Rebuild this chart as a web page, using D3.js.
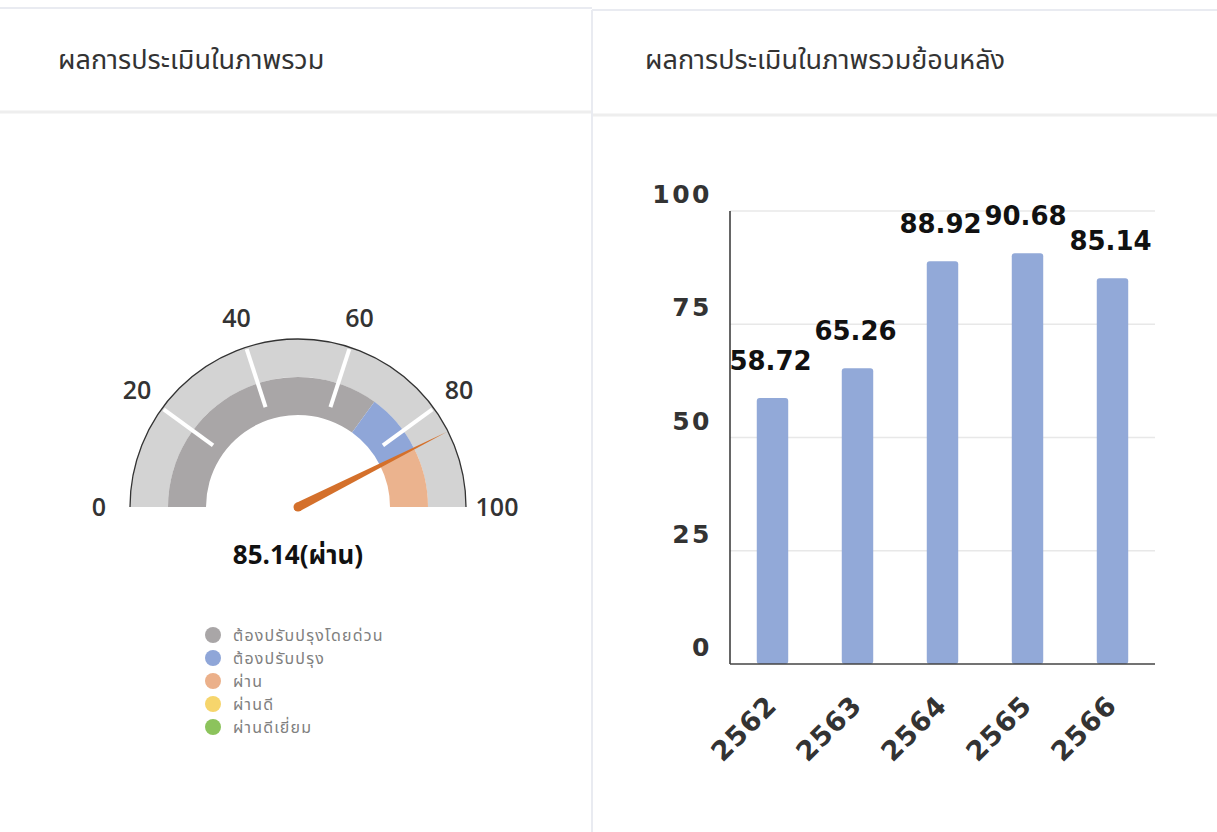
<!DOCTYPE html>
<html><head><meta charset="utf-8">
<script src="https://cdn.jsdelivr.net/npm/d3@7"></script>
<style>
html,body{margin:0;padding:0;background:#fff;}
svg{display:block;}
.thai{font-family:"Noto Sans Thai","Noto Sans Thai UI","Noto Sans","DejaVu Sans",sans-serif;}
</style></head>
<body>
<svg id="c" width="1217" height="832"></svg>
<script>
// ---------- data ----------
const gaugeTitle = "ผลการประเมินในภาพรวม";
const barTitle = "ผลการประเมินในภาพรวมย้อนหลัง";
const gaugeValue = 85.14;
const gaugeStatus = "ผ่าน";
const gaugeTicks = [0, 20, 40, 60, 80, 100];
const bandStarts = [0, 70, 85];
const bandEnds = [70, 85, 100];
const bandColors = ["#a9a6a7", "#8fa6d8", "#ebb38e"];
const legendLabels = ["ต้องปรับปรุงโดยด่วน", "ต้องปรับปรุง", "ผ่าน", "ผ่านดี", "ผ่านดีเยี่ยม"];
const legendColors = ["#a9a6a7", "#8fa6d8", "#ebb08a", "#f6d56c", "#8cc35c"];
const years = ["2562", "2563", "2564", "2565", "2566"];
const scores = [58.72, 65.26, 88.92, 90.68, 85.14];
const yTicks = [0, 25, 50, 75, 100];

(function(){
const svg = d3.select("#c");

// ---------- panels ----------
svg.append("line").attr("x1",0).attr("x2",592).attr("y1",8).attr("y2",8).attr("stroke","#e9ebf1").attr("stroke-width",2);
svg.append("line").attr("x1",592).attr("x2",1217).attr("y1",10).attr("y2",10).attr("stroke","#e9ebf1").attr("stroke-width",2);
svg.append("line").attr("x1",592).attr("x2",592).attr("y1",10).attr("y2",832).attr("stroke","#e9ebf1").attr("stroke-width",2);
svg.append("line").attr("x1",0).attr("x2",591).attr("y1",112).attr("y2",112).attr("stroke","#eeeeee").attr("stroke-width",3);
svg.append("line").attr("x1",593).attr("x2",1217).attr("y1",115).attr("y2",115).attr("stroke","#eeeeee").attr("stroke-width",3);

svg.append("text").attr("class","thai").attr("x",58).attr("y",69).attr("font-size",27).attr("fill","#333").text(gaugeTitle);
svg.append("text").attr("class","thai").attr("x",645).attr("y",69).attr("font-size",27).attr("fill","#333").text(barTitle);

// ---------- gauge ----------
const cx = 298, cy = 507, R = 168, rMid = 130, rIn = 92;
const ang = d3.scaleLinear().domain([0,100]).range([-Math.PI/2, Math.PI/2]);
const g = svg.append("g").attr("transform",`translate(${cx},${cy})`);
const arc = d3.arc();
g.append("path").attr("d", arc({innerRadius:rMid, outerRadius:R, startAngle:ang(0), endAngle:ang(100)})).attr("fill","#d3d3d3");
g.selectAll("path.band").data(bandStarts).join("path").attr("class","band")
  .attr("d",(d,i)=>arc({innerRadius:rIn, outerRadius:rMid, startAngle:ang(d), endAngle:ang(bandEnds[i])}))
  .attr("fill",(d,i)=>bandColors[i]);
// outer outline
g.append("path").attr("d", d3.arc()({innerRadius:R, outerRadius:R, startAngle:ang(0), endAngle:ang(100)}))
  .attr("fill","none").attr("stroke","#333").attr("stroke-width",1.3);
// white ticks
const inner = gaugeTicks.filter(t=>t>0 && t<100);
g.selectAll("line.tk").data(inner).join("line").attr("class","tk")
  .attr("x1",d=>105*Math.sin(ang(d))).attr("y1",d=>-105*Math.cos(ang(d)))
  .attr("x2",d=>166*Math.sin(ang(d))).attr("y2",d=>-166*Math.cos(ang(d)))
  .attr("stroke","#fff").attr("stroke-width",4);
// tick labels
g.selectAll("text.tl").data(gaugeTicks).join("text").attr("class","tl")
  .attr("x",d=>199*Math.sin(ang(d))).attr("y",d=>-199*Math.cos(ang(d)))
  .attr("text-anchor","middle").attr("dy","0.36em")
  .attr("font-family","'Open Sans',sans-serif").attr("font-weight",600).attr("font-size",25)
  .attr("fill","#333").text(d=>d);
// needle
const a = ang(gaugeValue);
const tipR = 167, hw = 4.5;
const tip = [tipR*Math.sin(a), -tipR*Math.cos(a)];
const px = Math.cos(a), py = Math.sin(a);
g.append("path").attr("d", `M${hw*px},${hw*py} L${tip[0]},${tip[1]} L${-hw*px},${-hw*py} Z`).attr("fill","#d4702b");
g.append("circle").attr("r",4.5).attr("fill","#d4702b");
// value text
svg.append("text").attr("class","thai").attr("x",cx).attr("y",564).attr("text-anchor","middle")
  .attr("font-size",26).attr("font-weight",700).attr("fill","#111").text(`${gaugeValue}(${gaugeStatus})`);
// legend
const lg = svg.append("g");
lg.selectAll("circle").data(legendLabels).join("circle")
  .attr("cx",213).attr("cy",(d,i)=>635+i*23).attr("r",8).attr("fill",(d,i)=>legendColors[i]);
lg.selectAll("text").data(legendLabels).join("text").attr("class","thai")
  .attr("x",233).attr("y",(d,i)=>635+i*23).attr("dy","0.35em").attr("font-size",16).attr("letter-spacing",1.2)
  .attr("fill","#808080").text(d=>d);

// ---------- bar chart ----------
const pl = 730, pr = 1155, pt = 211, pb = 664;
const x = d3.scaleBand().domain(years).range([pl,pr]).paddingInner(0.63).paddingOuter(0.315);
const y = d3.scaleLinear().domain([0,100]).range([pb, pt]);
const bg = svg.append("g");
bg.selectAll("line.grid").data(yTicks.filter(t=>t>0)).join("line").attr("class","grid")
  .attr("x1",pl).attr("x2",pr).attr("y1",d=>y(d)).attr("y2",d=>y(d)).attr("stroke","#e8e8e8").attr("stroke-width",1.5);
bg.selectAll("rect").data(scores).join("rect")
  .attr("x",(d,i)=>x(years[i])).attr("width",x.bandwidth())
  .attr("y",d=>y(d)).attr("height",d=>pb-y(d)).attr("rx",3).attr("fill","#92a9d8");
// axes lines
bg.append("line").attr("x1",pl).attr("x2",pl).attr("y1",pt).attr("y2",pb).attr("stroke","#333").attr("stroke-width",1.5);
bg.append("line").attr("x1",pl).attr("x2",pr).attr("y1",pb).attr("y2",pb).attr("stroke","#444").attr("stroke-width",1.5);
// y tick labels
bg.selectAll("text.yt").data(yTicks).join("text").attr("class","yt")
  .attr("x",712).attr("y",d=>y(d)-8).attr("text-anchor","end")
  .attr("font-family","'DejaVu Sans',sans-serif").attr("font-weight",700).attr("font-size",25).attr("letter-spacing",2.5)
  .attr("fill","#333").text(d=>d);
// value labels
bg.selectAll("text.vl").data(scores).join("text").attr("class","vl")
  .attr("x",(d,i)=>x(years[i])+x.bandwidth()/2-2).attr("y",d=>y(d)-28).attr("text-anchor","middle")
  .attr("font-family","'DejaVu Sans',sans-serif").attr("font-weight",700).attr("font-size",26)
  .attr("fill","#111").text(d=>d.toFixed(2));
// x labels
bg.selectAll("text.xl").data(years).join("text").attr("class","xl")
  .attr("transform",d=>`translate(${x(d)+x.bandwidth()/2+6},707) rotate(-45)`)
  .attr("text-anchor","end")
  .attr("font-family","'DejaVu Sans',sans-serif").attr("font-weight",700).attr("font-size",27).attr("letter-spacing",1)
  .attr("fill","#333").text(d=>d);
})();
</script>
</body></html>
